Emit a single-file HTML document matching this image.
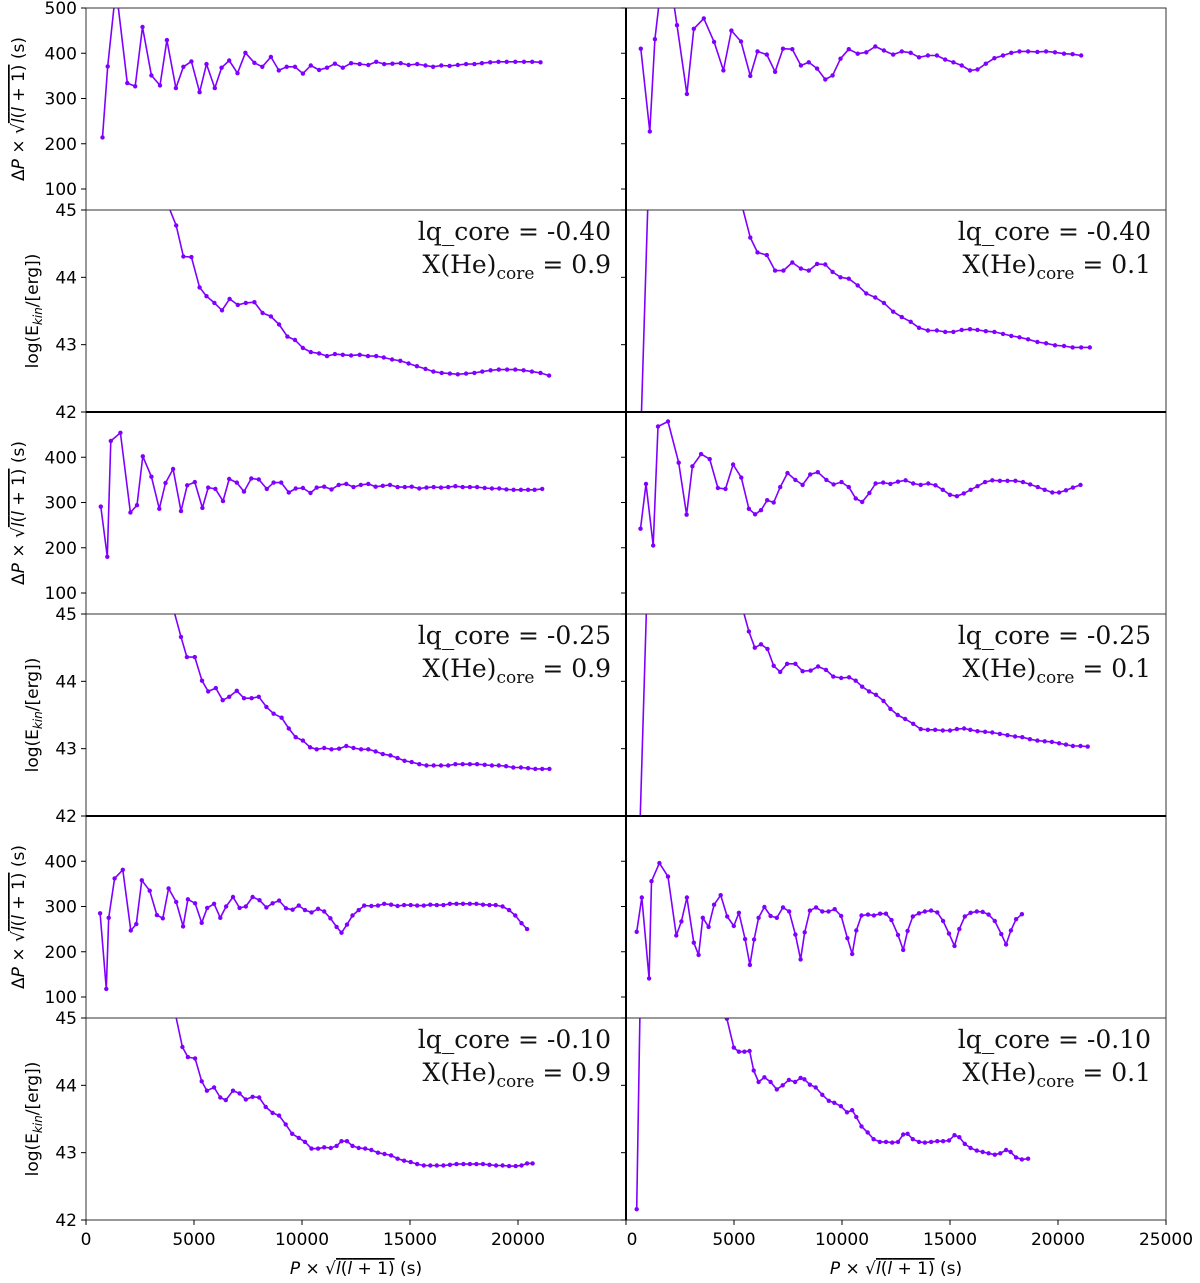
<!DOCTYPE html>
<html><head><meta charset="utf-8"><title>Period spacing and kinetic energy panels</title>
<style>
html,body{margin:0;padding:0;background:#fff;}
svg{display:block;}
.tk{font-family:"DejaVu Sans","Liberation Sans",sans-serif;font-size:17px;fill:#000;}
.ann{font-family:"DejaVu Serif","Liberation Serif",serif;font-size:25px;fill:#111;}
.sub{font-size:17px;}
</style></head>
<body>
<svg id="fig" width="1200" height="1283" viewBox="0 0 1200 1283" xmlns="http://www.w3.org/2000/svg">
<defs id="defs"></defs>
<g id="panels"></g>
<g id="frames"></g>
<g id="ticks"></g>
<g id="labels">
  <text class="tk" transform="translate(24,109) rotate(-90)" text-anchor="middle">Δ<tspan font-style="italic">P</tspan> × √<tspan text-decoration="overline"><tspan font-style="italic">l</tspan>(<tspan font-style="italic">l</tspan> + 1)</tspan> (s)</text>
  <text class="tk" transform="translate(38,311) rotate(-90)" text-anchor="middle">log(E<tspan font-size="12" dy="4" font-style="italic">kin</tspan><tspan dy="-4">/[erg])</tspan></text>
  <text class="tk" transform="translate(24,513) rotate(-90)" text-anchor="middle">Δ<tspan font-style="italic">P</tspan> × √<tspan text-decoration="overline"><tspan font-style="italic">l</tspan>(<tspan font-style="italic">l</tspan> + 1)</tspan> (s)</text>
  <text class="tk" transform="translate(38,715) rotate(-90)" text-anchor="middle">log(E<tspan font-size="12" dy="4" font-style="italic">kin</tspan><tspan dy="-4">/[erg])</tspan></text>
  <text class="tk" transform="translate(24,917) rotate(-90)" text-anchor="middle">Δ<tspan font-style="italic">P</tspan> × √<tspan text-decoration="overline"><tspan font-style="italic">l</tspan>(<tspan font-style="italic">l</tspan> + 1)</tspan> (s)</text>
  <text class="tk" transform="translate(38,1119) rotate(-90)" text-anchor="middle">log(E<tspan font-size="12" dy="4" font-style="italic">kin</tspan><tspan dy="-4">/[erg])</tspan></text>
  <text class="tk" x="356" y="1274" text-anchor="middle"><tspan font-style="italic">P</tspan> × √<tspan text-decoration="overline"><tspan font-style="italic">l</tspan>(<tspan font-style="italic">l</tspan> + 1)</tspan>  (s)</text>
  <text class="tk" x="896" y="1274" text-anchor="middle"><tspan font-style="italic">P</tspan> × √<tspan text-decoration="overline"><tspan font-style="italic">l</tspan>(<tspan font-style="italic">l</tspan> + 1)</tspan>  (s)</text>
</g>
<g id="annots"></g>
</svg>
<script>
// ---- data: period spacing (dp) and kinetic energy (ek) panels ----
const dp1_p=[765,1004,1387,1913,2279,2614,3029,3427,3746,4160,4511,4878,5260,5579,5962,6280,6631,7014,7380,7795,8161,8560,8926,9293,9676,10042,10409,10791,11158,11525,11891,12274,12672,13071,13437,13804,14187,14569,14936,15334,15717,16068,16450,16833,17215,17598,17980,18331,18714,19096,19479,19877,20276,20659,21041];
const dp1_v=[214,371,544,334,327,458,351,329,429,323,370,382,314,376,323,368,384,356,401,379,370,392,362,370,370,355,373,363,368,377,368,378,376,374,381,376,377,378,374,376,373,370,373,372,374,376,376,378,380,381,381,381,381,381,380];
const dp2_p=[685,1100,1339,1833,2359,2821,3140,3602,4081,4511,4878,5324,5754,6089,6519,6902,7269,7699,8098,8464,8847,9229,9564,9931,10313,10728,11126,11541,11939,12369,12768,13182,13565,13979,14394,14776,15159,15542,15924,16275,16657,17056,17454,17837,18219,18618,19048,19447,19861,20276,20674,21073];
const dp2_v=[410,227,431,633,462,310,454,477,425,362,450,426,350,404,397,359,410,409,373,380,366,342,351,388,409,399,402,415,406,397,404,401,391,395,395,386,380,373,362,364,377,389,395,401,404,404,403,404,402,399,398,395];
const dp3_p=[685,988,1148,1594,2056,2359,2630,3029,3395,3682,4033,4399,4686,5037,5388,5659,5993,6344,6631,6982,7316,7651,8002,8369,8687,9038,9389,9707,10042,10393,10680,11030,11365,11700,12051,12385,12720,13071,13406,13740,14075,14426,14760,15079,15430,15765,16099,16434,16769,17104,17438,17773,18108,18459,18793,19128,19463,19797,20132,20467,20770,21121];
const dp3_v=[291,180,436,454,278,294,402,357,286,343,374,281,338,345,288,333,330,303,352,344,324,353,351,330,344,344,322,331,332,321,333,335,329,339,341,334,339,341,335,337,339,334,334,335,331,333,334,333,334,336,334,334,334,332,331,331,329,328,328,328,328,330];
const dp4_p=[669,925,1259,1482,1945,2439,2805,3076,3475,3873,4256,4607,4957,5340,5691,5978,6248,6535,6838,7141,7476,7842,8177,8528,8879,9277,9612,9978,10313,10632,10935,11270,11557,11907,12242,12593,12943,13294,13645,13995,14330,14665,14999,15318,15637,15956,16275,16625,16960,17311,17662,18028,18379,18714,19064,19383,19734,20053,20371,20690,21041];
const dp4_v=[242,341,205,468,479,388,273,380,407,396,332,330,384,355,286,274,283,305,300,334,365,350,339,362,367,350,340,345,334,309,301,321,342,344,341,346,349,342,339,342,338,328,317,314,320,328,336,345,349,348,348,348,345,340,334,328,322,322,327,333,339];
const dp5_p=[654,940,1052,1323,1706,2072,2327,2582,2949,3284,3555,3826,4176,4495,4718,5053,5356,5611,5930,6217,6488,6806,7109,7396,7715,8034,8353,8639,8942,9261,9564,9851,10138,10441,10744,11030,11317,11604,11827,12083,12338,12624,12880,13214,13517,13804,14123,14426,14729,15031,15334,15637,15940,16243,16546,16849,17151,17454,17773,18076,18379,18682,18969,19287,19590,19877,20164,20419];
const dp5_v=[285,118,275,362,381,247,261,358,335,281,274,340,310,256,316,307,264,297,306,275,300,321,297,300,321,314,298,307,313,296,293,302,292,287,295,289,274,255,242,260,280,292,302,301,302,306,304,301,303,303,302,302,304,303,303,306,306,306,306,306,304,303,303,300,292,280,263,250];
const dp6_p=[494,733,1068,1180,1546,1945,2327,2566,2821,3140,3363,3555,3826,4081,4384,4686,4989,5228,5515,5738,5930,6137,6408,6695,6982,7269,7556,7842,8082,8273,8512,8799,9086,9373,9660,9963,10249,10473,10664,10903,11206,11477,11764,12035,12290,12593,12832,13039,13278,13565,13836,14123,14410,14681,14952,15207,15430,15685,15956,16243,16514,16785,17072,17375,17598,17821,18060,18331];
const dp6_v=[244,320,141,356,396,366,236,267,320,220,193,275,255,304,325,278,257,286,228,171,227,275,299,279,275,298,289,238,183,243,291,298,289,289,294,279,230,195,247,280,282,280,284,284,270,237,204,246,278,285,289,291,287,268,240,213,250,278,286,289,288,282,268,239,216,247,272,283];

const ek1_p=[3443,3826,4176,4511,4878,5260,5579,5946,6296,6647,7030,7396,7795,8177,8560,8942,9325,9676,10042,10409,10791,11158,11525,11891,12274,12672,13055,13437,13788,14171,14553,14936,15318,15717,16083,16466,16849,17215,17598,17980,18347,18730,19112,19495,19877,20260,20642,21041,21439];
const ek1_v=[46.0,45.05,44.77,44.31,44.30,43.85,43.72,43.62,43.51,43.68,43.59,43.62,43.63,43.47,43.42,43.30,43.12,43.07,42.95,42.89,42.87,42.83,42.86,42.85,42.84,42.85,42.83,42.83,42.81,42.78,42.76,42.72,42.68,42.64,42.60,42.58,42.57,42.56,42.57,42.58,42.60,42.62,42.63,42.63,42.63,42.62,42.60,42.58,42.54];
const ek2_p=[669,1052,5260,5754,6089,6519,6902,7285,7699,8098,8464,8847,9229,9564,9931,10313,10728,11126,11541,11939,12369,12768,13182,13565,13979,14394,14776,15159,15542,15924,16275,16657,17056,17454,17837,18219,18618,19048,19447,19861,20276,20674,21073,21471];
const ek2_v=[41.52,45.5,45.2,44.59,44.37,44.33,44.10,44.10,44.22,44.13,44.10,44.20,44.19,44.08,44.00,43.98,43.88,43.76,43.70,43.62,43.49,43.41,43.34,43.25,43.21,43.21,43.19,43.19,43.22,43.23,43.22,43.20,43.19,43.16,43.13,43.11,43.08,43.04,43.02,42.99,42.98,42.96,42.96,42.96];
const ek3_p=[3698,4049,4399,4670,5037,5372,5659,6009,6328,6631,6982,7316,7667,8002,8353,8687,9054,9389,9707,10042,10377,10680,11030,11365,11716,12051,12385,12736,13071,13406,13740,14091,14426,14745,15079,15430,15765,16099,16434,16769,17104,17438,17773,18108,18459,18793,19112,19447,19781,20132,20467,20802,21121,21455];
const ek3_v=[46.0,45.07,44.66,44.36,44.36,44.01,43.85,43.90,43.72,43.77,43.86,43.75,43.75,43.77,43.62,43.52,43.46,43.30,43.17,43.12,43.02,42.99,43.01,42.99,43.00,43.04,43.01,42.99,42.99,42.96,42.92,42.90,42.86,42.82,42.80,42.77,42.75,42.75,42.75,42.75,42.77,42.77,42.77,42.77,42.76,42.75,42.75,42.74,42.72,42.72,42.71,42.70,42.70,42.70];
const ek4_p=[606,988,5340,5691,5962,6248,6551,6838,7141,7460,7842,8177,8544,8895,9261,9596,9963,10329,10632,10935,11254,11572,11923,12242,12577,12927,13294,13645,13979,14314,14665,14999,15318,15653,15940,16275,16625,16960,17311,17662,18012,18347,18698,19048,19383,19718,20053,20371,20690,21041,21376];
const ek4_v=[41.42,45.5,45.15,44.74,44.50,44.55,44.48,44.23,44.14,44.26,44.26,44.15,44.16,44.22,44.17,44.07,44.05,44.06,44.01,43.92,43.85,43.80,43.71,43.59,43.50,43.44,43.37,43.29,43.28,43.28,43.27,43.27,43.29,43.30,43.28,43.26,43.25,43.24,43.22,43.20,43.18,43.17,43.14,43.12,43.11,43.10,43.08,43.06,43.04,43.04,43.03];
const ek5_p=[3762,4113,4463,4718,5053,5356,5595,5930,6217,6472,6806,7109,7396,7715,8018,8321,8639,8942,9245,9548,9851,10138,10441,10744,11030,11333,11604,11827,12083,12338,12624,12927,13214,13517,13820,14123,14426,14729,15031,15334,15637,15940,16243,16546,16849,17151,17470,17773,18076,18379,18682,18985,19287,19590,19893,20164,20419,20674];
const ek5_v=[46.0,45.1,44.57,44.42,44.40,44.06,43.92,43.97,43.82,43.78,43.92,43.88,43.79,43.83,43.82,43.68,43.59,43.55,43.42,43.28,43.22,43.16,43.06,43.06,43.08,43.07,43.10,43.17,43.17,43.10,43.07,43.06,43.04,43.00,42.98,42.96,42.91,42.88,42.86,42.83,42.81,42.81,42.81,42.81,42.82,42.83,42.83,42.83,42.83,42.83,42.82,42.81,42.81,42.80,42.80,42.81,42.84,42.84];
const ek6_p=[494,877,4304,4670,4989,5228,5483,5722,5914,6137,6408,6695,6982,7253,7540,7827,8082,8257,8512,8783,9086,9389,9644,9947,10233,10473,10664,10903,11190,11461,11748,12035,12322,12593,12832,13039,13278,13565,13836,14123,14410,14681,14952,15207,15430,15685,15956,16243,16514,16785,17072,17327,17598,17805,18060,18331,18618];
const ek6_v=[42.16,49.5,46.0,44.99,44.56,44.50,44.50,44.51,44.22,44.05,44.12,44.05,43.94,44.00,44.08,44.05,44.11,44.09,44.01,43.97,43.86,43.77,43.74,43.69,43.60,43.63,43.53,43.39,43.30,43.20,43.16,43.16,43.15,43.16,43.27,43.28,43.20,43.16,43.15,43.16,43.17,43.17,43.18,43.26,43.23,43.13,43.07,43.03,43.01,42.99,42.97,42.99,43.04,43.01,42.93,42.90,42.91];

const xTicks=[0,5000,10000,15000,20000,25000];
const dpTicksTop=[100,200,300,400,500];
const dpTicks=[100,200,300,400];
const ekTicks=[42,43,44,45];
const lqLabels=["-0.40","-0.25","-0.10"];
const heLabels=["0.9","0.1"];

const NS="http://www.w3.org/2000/svg";
const COLOR="#8000ff";
const W=540, H=202;
const colX=[86,626];
const rowY=[8,210,412,614,816,1018];
function xScale(col,p){return colX[col]+p*(W/25000);}
function dpScale(row,v){return rowY[row]+(500-v)*0.4525;}
function ekScale(row,v){return rowY[row]+(45-v)*(H/3);}
function mk(tag,attrs,parent){const e=document.createElementNS(NS,tag);for(const k in attrs)e.setAttribute(k,attrs[k]);parent.appendChild(e);return e;}

const defs=document.getElementById('defs');
const panelsG=document.getElementById('panels');
const framesG=document.getElementById('frames');
const ticksG=document.getElementById('ticks');
const annG=document.getElementById('annots');

const panels=[
 {row:0,col:0,type:'dp',p:dp1_p,v:dp1_v,name:'dp-lq040-he09'},
 {row:0,col:1,type:'dp',p:dp2_p,v:dp2_v,name:'dp-lq040-he01'},
 {row:1,col:0,type:'ek',p:ek1_p,v:ek1_v,name:'ekin-lq040-he09'},
 {row:1,col:1,type:'ek',p:ek2_p,v:ek2_v,name:'ekin-lq040-he01'},
 {row:2,col:0,type:'dp',p:dp3_p,v:dp3_v,name:'dp-lq025-he09'},
 {row:2,col:1,type:'dp',p:dp4_p,v:dp4_v,name:'dp-lq025-he01'},
 {row:3,col:0,type:'ek',p:ek3_p,v:ek3_v,name:'ekin-lq025-he09'},
 {row:3,col:1,type:'ek',p:ek4_p,v:ek4_v,name:'ekin-lq025-he01'},
 {row:4,col:0,type:'dp',p:dp5_p,v:dp5_v,name:'dp-lq010-he09'},
 {row:4,col:1,type:'dp',p:dp6_p,v:dp6_v,name:'dp-lq010-he01'},
 {row:5,col:0,type:'ek',p:ek5_p,v:ek5_v,name:'ekin-lq010-he09'},
 {row:5,col:1,type:'ek',p:ek6_p,v:ek6_v,name:'ekin-lq010-he01'}
];

panels.forEach((pn,i)=>{
  const cid='clip'+i;
  const cp=mk('clipPath',{id:cid},defs);
  mk('rect',{x:colX[pn.col],y:rowY[pn.row],width:W,height:H},cp);
  const g=mk('g',{'clip-path':'url(#'+cid+')'},panelsG);
  
  
  const ys=v=>pn.type==='dp'?dpScale(pn.row,v):ekScale(pn.row,v);
  let d='';
  for(let k=0;k<pn.p.length;k++){d+=(k?'L':'M')+xScale(pn.col,pn.p[k]).toFixed(1)+','+ys(pn.v[k]).toFixed(1);}
  const line=mk('path',{d:d,fill:'none',stroke:COLOR,'stroke-width':1.6,'stroke-linejoin':'round'},g);
  
  
  for(let k=0;k<pn.p.length;k++){
    const c=mk('circle',{cx:xScale(pn.col,pn.p[k]).toFixed(1),cy:ys(pn.v[k]).toFixed(1),r:2.2,fill:COLOR},g);
    
    
  }
  // frame
  const fr=mk('rect',{x:colX[pn.col],y:rowY[pn.row],width:W,height:H,fill:'none',stroke:'#333','stroke-width':1},framesG);
  
  
});

// heavy separators
[412,816].forEach(y=>{mk('line',{x1:86,x2:1166,y1:y,y2:y,stroke:'#000','stroke-width':2},framesG);});
mk('line',{x1:626,x2:626,y1:8,y2:1220,stroke:'#000','stroke-width':2},framesG);

// y ticks (left column)
for(let r=0;r<6;r++){
  const isDp=r%2===0;
  const ticks=isDp?(r===0?dpTicksTop:dpTicks):ekTicks;
  ticks.forEach(t=>{
    const y=isDp?dpScale(r,t):ekScale(r,t);
    mk('line',{x1:81,x2:86,y1:y,y2:y,stroke:'#000','stroke-width':1},ticksG);
    mk('line',{x1:621,x2:626,y1:y,y2:y,stroke:'#000','stroke-width':1},ticksG);
    const tx=mk('text',{x:77,y:y+6,'text-anchor':'end',class:'tk'},ticksG);
    
    
    tx.textContent=String(t);
  });
}
// x ticks
for(let c=0;c<2;c++){
  xTicks.forEach(t=>{
    if(c===0&&t===25000)return;
    const x=xScale(c,t);
    mk('line',{x1:x,x2:x,y1:1220,y2:1225,stroke:'#000','stroke-width':1},ticksG);
    const tx=mk('text',{x:(c===1&&t===0)?x+6:x,y:1245,'text-anchor':'middle',class:'tk'},ticksG);
    
    
    tx.textContent=String(t);
  });
}
// annotations
for(let r=0;r<3;r++){
  for(let c=0;c<2;c++){
    const right=colX[c]+W-15;
    const y0=rowY[2*r+1];
    const t1=mk('text',{x:right,y:y0+30,'text-anchor':'end',class:'ann'},annG);
    
    
    t1.textContent='lq_core = '+lqLabels[r];
    const t2=mk('text',{x:right,y:y0+63,'text-anchor':'end',class:'ann'},annG);
    
    
    t2.innerHTML='X(He)<tspan class="sub" dy="6">core</tspan><tspan dy="-6"> = '+heLabels[c]+'</tspan>';
  }
}
</script>
</body></html>
